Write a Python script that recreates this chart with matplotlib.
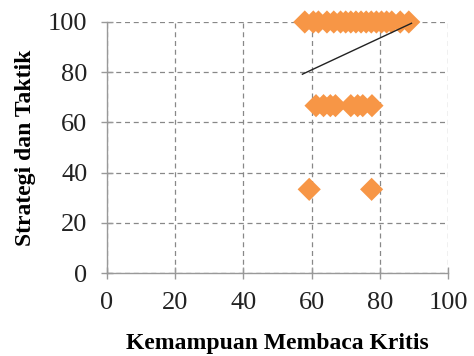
import matplotlib
matplotlib.use("Agg")
import matplotlib.pyplot as plt

# Data
x_row100 = [58.0, 60.5, 62.0, 64.5, 66.5, 68.5, 70.0, 71.5, 73.0, 74.5, 76.0,
            77.5, 79.0, 80.5, 82.0, 83.5, 86.0, 88.5]
y_row100 = [100] * len(x_row100)
x_row67 = [61.3, 63.5, 65.5, 67.0, 71.5, 73.5, 75.0, 77.7]
y_row67 = [66.67] * len(x_row67)
x_row33 = [59.3, 77.6]
y_row33 = [33.33] * len(x_row33)

x_vals = x_row100 + x_row67 + x_row33
y_vals = y_row100 + y_row67 + y_row33

trend_x = [57.3, 89.3]
trend_y = [79.2, 99.5]

ticks = [0, 20, 40, 60, 80, 100]
xlabel = "Kemampuan Membaca Kritis"
ylabel = "Strategi dan Taktik"

plt.rcParams['font.family'] = ['Liberation Serif', 'DejaVu Serif']

fig = plt.figure(figsize=(4.74, 3.56), dpi=100)
ax = fig.add_axes([107/474, 1 - 273/356, (448 - 107)/474, (273 - 22)/356])

ax.scatter(x_vals, y_vals, marker='D', s=11.8**2, color='#F79646',
           edgecolors='none', zorder=3, clip_on=False)
ax.plot(trend_x, trend_y, color='#222222', lw=1.0, zorder=4)

ax.set_xlim(0, 100)
ax.set_ylim(0, 100)
ax.set_xticks(ticks)
ax.set_yticks(ticks)
ax.grid(True, color='#888888', linestyle=(0, (4, 3)), linewidth=0.9)
ax.set_axisbelow(True)

for s in ['top', 'right']:
    ax.spines[s].set_visible(False)
for s in ['left', 'bottom']:
    ax.spines[s].set_color('#999999')
    ax.spines[s].set_linewidth(1.0)

ax.tick_params(axis='both', which='major', direction='inout', length=8,
               width=1.0, color='#999999', labelsize=19, labelcolor='#222222')
ax.tick_params(axis='x', pad=10)
ax.tick_params(axis='y', pad=10)

ax.set_xlabel(xlabel, fontsize=17, fontweight='bold', labelpad=13)
ax.set_ylabel(ylabel, fontsize=17, fontweight='bold', labelpad=9)

fig.savefig("out.png", dpi=100)
